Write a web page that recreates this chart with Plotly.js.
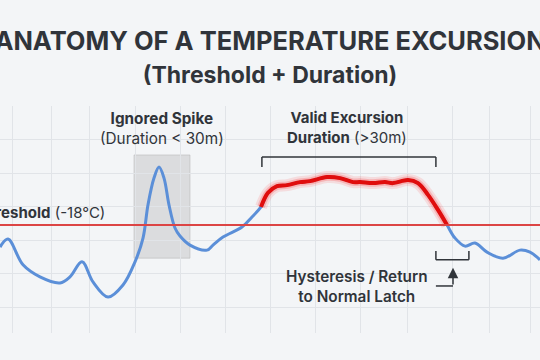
<!DOCTYPE html>
<html>
<head>
<meta charset="utf-8">
<script src="https://cdn.plot.ly/plotly-3.0.1.min.js"></script>
<style>html,body{margin:0;padding:0;background:#f3f5f7;}#chart{width:540px;height:360px;}</style>
</head>
<body>
<div id="chart"></div>
<script>
// Time in minutes, temperature in °C
const minutes = [0, 2.67, 7.67, 13.33, 20, 23.33, 27.33, 31, 36, 41, 45, 47.67, 49.33, 51.33, 53, 54.67, 56.33, 58.33, 60, 63.33, 69, 71, 74.33, 80.67, 84, 87, 89.33, 92.33, 95.67, 100, 103.33, 109, 113.33, 117.67, 120, 124.33, 128.33, 131, 136, 139.33, 142.67, 146, 149, 151.67, 155, 158.33, 162.33, 167.67, 173.33, 176.67, 180];
const temps = [-18.66, -18.42, -19.19, -19.55, -19.73, -19.55, -19.10, -19.70, -20.15, -19.79, -19.10, -18.39, -17.40, -16.60, -16.27, -16.60, -17.40, -18.09, -18.33, -18.60, -18.75, -18.60, -18.36, -18.06, -17.76, -17.46, -17.04, -16.84, -16.81, -16.72, -16.69, -16.57, -16.60, -16.72, -16.72, -16.75, -16.72, -16.75, -16.66, -16.75, -17.10, -17.55, -18.00, -18.39, -18.63, -18.54, -18.81, -18.99, -18.75, -18.81, -19.04];
const threshold = -18;
const excursionStart = 87;   // minutes
const excursionEnd = 149;    // minutes
const spikeWindow = [44.67, 63.33];
const spikeBand = [-18.99, -15.91];
const gridMinutes = [4.3, 17, 29.7, 45, 60, 75, 90.3, 105, 120.3, 135.7, 150.7, 163.3, 176.7];

const exMin = [], exTemp = [];
minutes.forEach((m, i) => { if (m >= excursionStart && m <= excursionEnd) { exMin.push(m); exTemp.push(temps[i]); } });

const base = {x: minutes, y: temps, mode: 'lines', line: {color: '#5b8fd8', width: 3, shape: 'spline', smoothing: 1}, hoverinfo: 'skip', showlegend: false};
const glow1 = {x: exMin, y: exTemp, mode: 'lines', line: {color: 'rgba(255,40,40,0.12)', width: 12, shape: 'spline', smoothing: 1}, hoverinfo: 'skip', showlegend: false};
const glow2 = {x: exMin, y: exTemp, mode: 'lines', line: {color: 'rgba(255,40,40,0.22)', width: 7.5, shape: 'spline', smoothing: 1}, hoverinfo: 'skip', showlegend: false};
const red = {x: exMin, y: exTemp, mode: 'lines', line: {color: '#e00d0d', width: 4, shape: 'spline', smoothing: 1}, hoverinfo: 'skip', showlegend: false};

const dark = '#30343a';
const fam = 'Inter, "Open Sans", sans-serif';

const layout = {
  width: 540, height: 360,
  paper_bgcolor: '#f3f5f7', plot_bgcolor: '#f3f5f7',
  margin: {l: 0, r: 0, t: 106, b: 27, pad: 0},
  title: {
    text: 'ANATOMY OF A TEMPERATURE EXCURSION<br><span style="font-size:23px">(Threshold + Duration)</span>',
    font: {family: fam, size: 25.5, color: dark, weight: 700},
    x: 0.5, xanchor: 'center', y: 1 - 50/360, yref: 'container', yanchor: 'middle'
  },
  xaxis: {range: [0, 180], tickvals: gridMinutes, showticklabels: false, showgrid: true, gridcolor: '#e1e4e8', gridwidth: 1, zeroline: false, showline: false, ticks: ''},
  yaxis: {range: [-21.224, -14.448], tick0: -15.45, dtick: 1, showticklabels: false, showgrid: true, gridcolor: '#e1e4e8', gridwidth: 1, zeroline: false, showline: false, ticks: ''},
  shapes: [
    {type: 'rect', xref: 'x', yref: 'y', x0: spikeWindow[0], x1: spikeWindow[1], y0: spikeBand[0], y1: spikeBand[1], fillcolor: 'rgba(190,190,190,0.45)', line: {color: 'rgba(180,180,180,0.5)', width: 1}, layer: 'below'},
    {type: 'line', xref: 'paper', yref: 'y', x0: 0, x1: 1, y0: threshold, y1: threshold, line: {color: '#dc4545', width: 2}},
    // excursion bracket
    {type: 'line', x0: 87.3, x1: 145.3, y0: -15.97, y1: -15.97, line: {color: dark, width: 1.5}},
    {type: 'line', x0: 87.3, x1: 87.3, y0: -15.97, y1: -16.27, line: {color: dark, width: 1.5}},
    {type: 'line', x0: 145.3, x1: 145.3, y0: -15.97, y1: -16.27, line: {color: dark, width: 1.5}},
    // hysteresis bracket
    {type: 'line', x0: 145.3, x1: 156.3, y0: -19.04, y1: -19.04, line: {color: dark, width: 1.5}},
    {type: 'line', x0: 145.3, x1: 145.3, y0: -18.78, y1: -19.04, line: {color: dark, width: 1.5}},
    {type: 'line', x0: 156.3, x1: 156.3, y0: -18.78, y1: -19.04, line: {color: dark, width: 1.5}},
    {type: 'line', x0: 145.3, x1: 151, y0: -19.82, y1: -19.82, line: {color: dark, width: 1.5}}
  ],
  annotations: [
    {x: 54, y: -15.12, text: '<b>Ignored Spike</b><br>(Duration &lt; 30m)', showarrow: false, xanchor: 'center', yanchor: 'middle', font: {family: fam, size: 15.3, color: dark}},
    {x: 115.7, y: -15.09, text: '<b>Valid Excursion</b><br><b>Duration</b> (&gt;30m)', showarrow: false, xanchor: 'center', yanchor: 'middle', font: {family: fam, size: 15, color: dark}},
    {x: 35.67, y: -17.64, text: '<b>Threshold</b> (-18°C)', showarrow: false, xanchor: 'right', yanchor: 'middle', font: {family: fam, size: 15, color: dark}},
    {x: 118.9, y: -19.83, text: 'Hysteresis / Return<br>to Normal Latch', showarrow: false, xanchor: 'center', yanchor: 'middle', font: {family: fam, size: 15.3, color: dark, weight: 600}},
    {x: 151, y: -19.28, ax: 151, ay: -19.82, axref: 'x', ayref: 'y', xref: 'x', yref: 'y', text: '', showarrow: true, arrowhead: 2, arrowsize: 1.4, arrowwidth: 1.5, arrowcolor: dark}
  ]
};

Plotly.newPlot('chart', [base, glow1, glow2, red], layout, {staticPlot: true, displayModeBar: false});
</script>
</body>
</html>
